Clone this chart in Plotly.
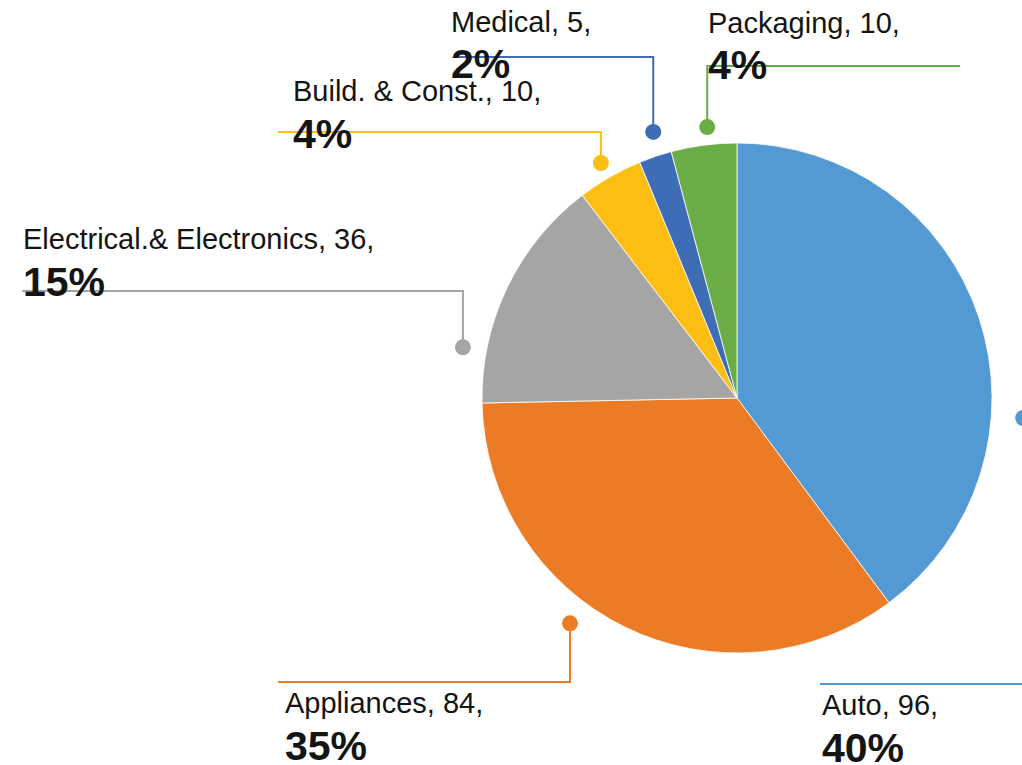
import math
import plotly.graph_objects as go

# ---- data ----
categories = ["Auto", "Appliances", "Electrical.& Electronics", "Build. & Const.", "Medical", "Packaging"]
values = [96, 84, 36, 10, 5, 10]
colors = ["#5399D4", "#EC7B25", "#A5A5A5", "#FDBE14", "#3E6DB6", "#6AAC45"]

# ---- layout constants (pixels) ----
W, H = 1022, 765
PIE_CX, PIE_CY, PIE_R = 737, 398, 255

# leader/label layout per category: dot angle offset (deg), dot radius factor,
# elbow line y, horizontal end x, text x, baselines for the two text lines
label_layout = {
    "Auto":                     dict(da=22.3, rf=1.125, ly=684, xe=820, tx=822, b1=715, b2=764),
    "Appliances":               dict(da=10.4, rf=1.10,  ly=682, xe=278, tx=285, b1=713, b2=762),
    "Electrical.& Electronics": dict(da=-15.3, rf=1.093, ly=291, xe=22, tx=23, b1=249, b2=298),
    "Build. & Const.":          dict(da=-0.2, rf=1.065, ly=132, xe=278, tx=293, b1=101, b2=150),
    "Medical":                  dict(da=1.2, rf=1.094, ly=57,  xe=457, tx=451, b1=32, b2=80),
    "Packaging":                dict(da=1.2, rf=1.069, ly=66,  xe=960, tx=708, b1=33, b2=81),
}

FONT = "Liberation Sans, Arial, sans-serif"
S1, S2 = 29, 41
TEXT_PAD = 2


def px(x):
    return x / W


def py(y):
    return 1 - y / H


fig = go.Figure(go.Pie(
    labels=categories,
    values=values,
    marker=dict(colors=colors, line=dict(color="white", width=0.8)),
    sort=False,
    direction="clockwise",
    rotation=0,
    textinfo="none",
    hoverinfo="label+value+percent",
    showlegend=False,
    domain=dict(x=[px(PIE_CX - PIE_R), px(PIE_CX + PIE_R)],
                y=[py(PIE_CY + PIE_R), py(PIE_CY - PIE_R)]),
))

total = sum(values)
shapes = []
annotations = []
cum = 0.0
for cat, val, col in zip(categories, values, colors):
    start = cum / total * 360
    cum += val
    end = cum / total * 360
    mid = (start + end) / 2
    L = label_layout[cat]
    ang = math.radians(mid + L["da"])
    r = PIE_R * L["rf"]
    dx = PIE_CX + r * math.sin(ang)
    dy = PIE_CY - r * math.cos(ang)
    # leader line
    shapes.append(dict(
        type="path", xref="paper", yref="paper",
        path=f"M {px(dx)},{py(dy)} L {px(dx)},{py(L['ly'])} L {px(L['xe'])},{py(L['ly'])}",
        line=dict(color=col, width=2), layer="above",
    ))
    # dot
    rr = 8
    shapes.append(dict(
        type="circle", xref="paper", yref="paper",
        x0=px(dx - rr), x1=px(dx + rr), y0=py(dy + rr), y1=py(dy - rr),
        fillcolor=col, line=dict(color=col, width=0), layer="above",
    ))
    pct = round(val / total * 100)
    annotations.append(dict(
        xref="paper", yref="paper", x=px(L["tx"] - TEXT_PAD), y=py(L["b1"] - 0.35 * S1),
        xanchor="left", yanchor="middle", showarrow=False,
        text=f"{cat}, {val},", font=dict(family=FONT, size=S1, color="#141414"),
    ))
    annotations.append(dict(
        xref="paper", yref="paper", x=px(L["tx"] - TEXT_PAD), y=py(L["b2"] - 0.39 * S2),
        xanchor="left", yanchor="middle", showarrow=False,
        text=f"<b>{pct}%</b>", font=dict(family=FONT, size=S2, color="#141414"),
    ))

fig.update_layout(
    width=W, height=H,
    margin=dict(l=0, r=0, t=0, b=0),
    paper_bgcolor="white",
    plot_bgcolor="white",
    shapes=shapes,
    annotations=annotations,
)

fig.write_html(
    "out.html",
    config={"displayModeBar": False},
    post_script="document.body.style.margin='0';document.body.style.overflow='hidden';",
)
